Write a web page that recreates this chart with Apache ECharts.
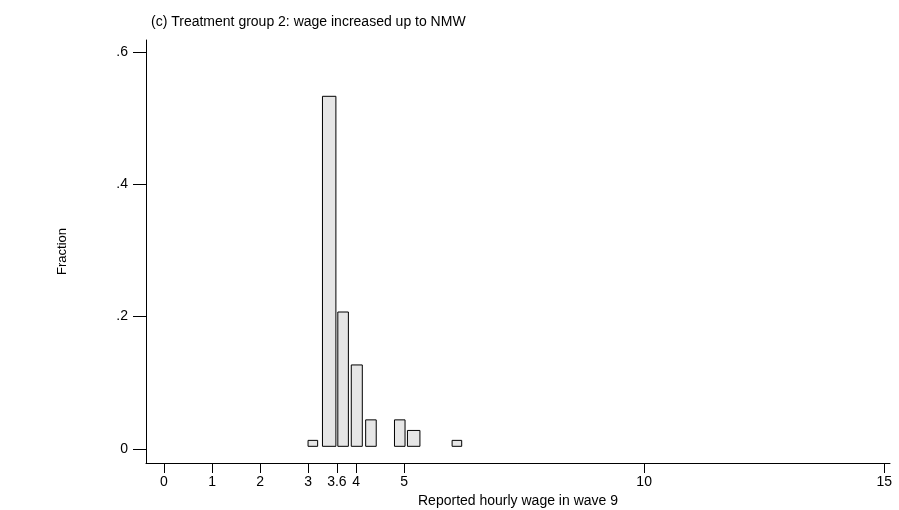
<!DOCTYPE html>
<html>
<head>
<meta charset="utf-8">
<script src="https://cdn.jsdelivr.net/npm/echarts@6/dist/echarts.min.js"></script>
<style>html,body{margin:0;padding:0;background:#fff}#chart{width:899px;height:510px}</style>
</head>
<body>
<div id="chart"></div>
<script>
// histogram bins: start, end, fraction
var binStart = [3.0, 3.3, 3.62, 3.9, 4.2, 4.8, 5.07, 6.0];
var binEnd   = [3.2, 3.58, 3.84, 4.13, 4.42, 5.02, 5.33, 6.2];
var fraction = [0.013, 0.533, 0.207, 0.127, 0.044, 0.044, 0.028, 0.013];
var xTicks = [0, 1, 2, 3, 3.6, 4, 5, 10, 15];
var yTicks = [0, 0.2, 0.4, 0.6];

var data = binStart.map(function (s, i) { return [s, binEnd[i], fraction[i]]; });
var font = 'Liberation Sans';

var chart = echarts.init(document.getElementById('chart'));
chart.setOption({
    animation: false,
    title: {
        text: '(c) Treatment group 2: wage increased up to NMW',
        left: 146, top: 10,
        textStyle: { fontFamily: font, fontSize: 14, fontWeight: 'normal', color: '#000' }
    },
    grid: { left: 146, top: 40, right: 9, bottom: 47, outerBoundsMode: 'none', containLabel: false },
    xAxis: {
        type: 'value', min: -0.375, max: 15.12,
        name: 'Reported hourly wage in wave 9', nameLocation: 'middle', nameGap: 29,
        nameTextStyle: { fontFamily: font, fontSize: 14, color: '#000' },
        axisLine: { show: true, onZero: false, lineStyle: { color: '#000' } },
        axisTick: { show: true, customValues: xTicks, length: 10, lineStyle: { color: '#000' } },
        axisLabel: {
            customValues: xTicks, fontFamily: font, fontSize: 14, color: '#000', margin: 12,
            formatter: function (v) { return String(v); }
        },
        splitLine: { show: false }
    },
    yAxis: {
        type: 'value', min: -0.0212, max: 0.6181,
        name: 'Fraction', nameLocation: 'middle', nameGap: 77, nameRotate: 90,
        nameTextStyle: { fontFamily: font, fontSize: 13, color: '#000' },
        axisLine: { show: true, onZero: false, lineStyle: { color: '#000' } },
        axisTick: { show: true, customValues: yTicks, length: 13, lineStyle: { color: '#000' } },
        axisLabel: {
            customValues: yTicks, fontFamily: font, fontSize: 14, color: '#000', margin: 18,
            formatter: function (v) { return v === 0 ? '0' : String(v).replace(/^0/, ''); }
        },
        splitLine: { show: false }
    },
    series: [{
        type: 'custom',
        data: data,
        renderItem: function (params, api) {
            var p0 = api.coord([api.value(0), 0.004]);
            var p1 = api.coord([api.value(1), api.value(2)]);
            return {
                type: 'rect',
                shape: { x: p0[0], y: p1[1], width: p1[0] - p0[0], height: p0[1] - p1[1] },
                style: { fill: '#e6e6e6', stroke: '#000', lineWidth: 1 }
            };
        }
    }]
});
</script>
</body>
</html>
